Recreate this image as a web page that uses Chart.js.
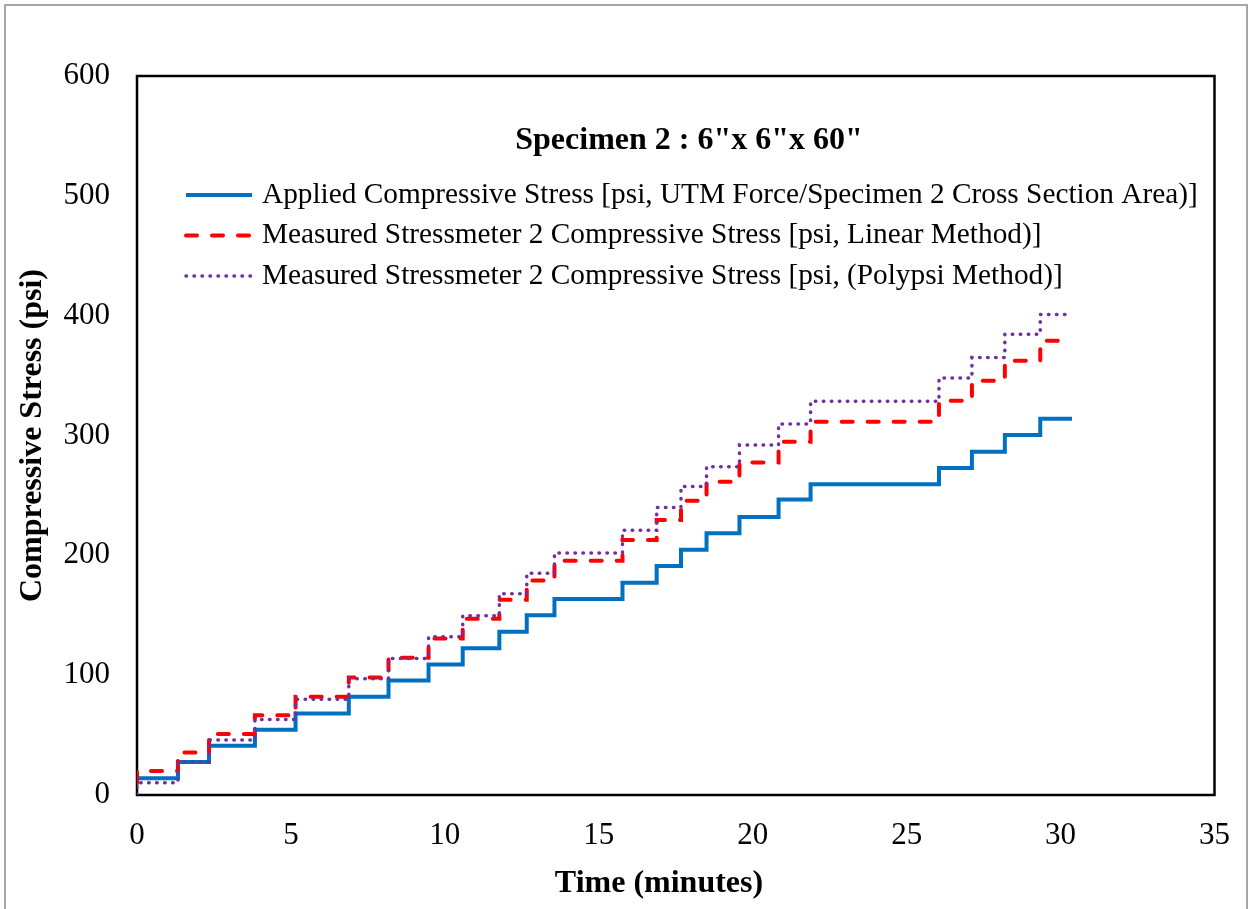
<!DOCTYPE html>
<html>
<head>
<meta charset="utf-8">
<title>Specimen 2 compressive stress</title>
<script src="https://cdn.jsdelivr.net/npm/chart.js@4.4.1/dist/chart.umd.min.js"></script>
<style>
  html, body { margin: 0; padding: 0; background: #fff; }
  #wrap { position: relative; width: 1252px; height: 909px; }
</style>
</head>
<body>
<div id="wrap"><canvas id="stressChart" width="1252" height="909"></canvas></div>
<script>
  // load steps (minutes) - same for all three records
  const stepTimes = [0, 1.33, 2.34, 3.83, 5.15, 6.88, 8.17, 9.47, 10.58, 11.77, 12.66, 13.56,
    15.77, 16.88, 17.67, 18.5, 19.57, 20.84, 21.88, 26.05, 27.12, 28.19, 29.34];

  // level held from each step time (psi)
  const appliedLevels = [14, 27.5, 41, 54.5, 68, 82, 95.5, 109, 122.5, 136.3, 150, 163.5,
    177.2, 191, 204.7, 218.4, 232, 246.5, 259.3, 272.8, 286.5, 300.4, 314];
  const linearLevels = [20, 35.5, 51, 66.5, 82, 98, 114.5, 130.6, 147, 163, 179, 195.5,
    212.8, 229.5, 245.6, 261.5, 277.5, 294.7, 311.5, 329, 345.6, 362.3, 379];
  const polypsiLevels = [10.3, 27.3, 46, 63, 80, 97, 114, 132, 149.5, 168, 185, 202,
    221, 240, 257.5, 274, 292, 309.6, 328.5, 348, 365, 384.5, 401];

  // reading at t = 0 before the first level, and last time of each record
  const linearStart = 10;
  const polypsiStart = 0;
  const appliedEnd = 30.37;
  const linearEnd = 30.02;
  const polypsiEnd = 30.37;

  const xTicks = [0, 5, 10, 15, 20, 25, 30, 35];
  const yTicks = [0, 100, 200, 300, 400, 500, 600];

  const chartTitle = "Specimen 2 : 6\"x 6\"x 60\"";
  const xTitle = "Time (minutes)";
  const yTitle = "Compressive Stress (psi)";
  const seriesNames = [
    "Applied Compressive Stress [psi, UTM Force/Specimen 2 Cross Section Area)]",
    "Measured Stressmeter 2 Compressive Stress [psi, Linear Method)]",
    "Measured Stressmeter 2 Compressive Stress [psi, (Polypsi Method)]",
  ];

  const SERIF = '"Liberation Serif", "Times New Roman", serif';

  function stepPoints(times, levels, endTime, startValue) {
    const pts = [];
    if (startValue !== undefined) pts.push({ x: times[0], y: startValue });
    times.forEach((t, i) => pts.push({ x: t, y: levels[i] }));
    pts.push({ x: endTime, y: levels[levels.length - 1] });
    return pts;
  }

  // outer border, plot frame, inner title, legend and x title
  const framePlugin = {
    id: "frame",
    beforeDraw(chart) {
      const ctx = chart.ctx;
      ctx.save();
      ctx.fillStyle = "#fff";
      ctx.fillRect(0, 0, chart.width, chart.height);
      ctx.strokeStyle = "#a6a6a6";
      ctx.lineWidth = 2;
      ctx.strokeRect(5, 5, chart.width - 10, chart.height + 20);
      ctx.restore();
    },
    beforeDatasetsDraw(chart) {
      const a = chart.chartArea;
      const ctx = chart.ctx;
      ctx.save();
      ctx.strokeStyle = "#000";
      ctx.lineWidth = 2.5;
      ctx.strokeRect(a.left, a.top, a.right - a.left, a.bottom - a.top);
      ctx.restore();
    },
    afterDraw(chart) {
      const a = chart.chartArea;
      const ctx = chart.ctx;
      ctx.save();
      ctx.fillStyle = "#000";
      ctx.textBaseline = "middle";
      ctx.textAlign = "center";
      ctx.font = "bold 32px " + SERIF;
      ctx.fillText(chartTitle, a.left + 552, a.top + 65);
      // x title sits a little left of the plot centre
      ctx.fillText(xTitle, a.left + 522, a.bottom + 89);

      ctx.textAlign = "left";
      ctx.font = "29.3px " + SERIF;
      chart.data.datasets.forEach((ds, i) => {
        const y = a.top + 119 + i * 40.5;
        ctx.save();
        ctx.strokeStyle = ds.borderColor;
        ctx.lineWidth = ds.borderWidth;
        ctx.lineCap = ds.borderCapStyle || "butt";
        ctx.setLineDash(ds.borderDash || []);
        ctx.beginPath();
        ctx.moveTo(a.left + 49, y);
        ctx.lineTo(a.left + 115, y);
        ctx.stroke();
        ctx.restore();
        ctx.fillText(ds.label, a.left + 125, y);
      });
      ctx.restore();
    },
  };

  new Chart(document.getElementById("stressChart"), {
    type: "line",
    data: {
      datasets: [
        {
          label: seriesNames[0],
          data: stepPoints(stepTimes, appliedLevels, appliedEnd),
          borderColor: "#0070C0",
          borderWidth: 4,
          stepped: true,
          order: 3,
        },
        {
          label: seriesNames[1],
          data: stepPoints(stepTimes, linearLevels, linearEnd, linearStart),
          borderColor: "#FF0000",
          borderWidth: 4,
          borderDash: [11, 15],
          borderCapStyle: "round",
          stepped: true,
          order: 2,
        },
        {
          label: seriesNames[2],
          data: stepPoints(stepTimes, polypsiLevels, polypsiEnd, polypsiStart),
          borderColor: "#7030A0",
          borderWidth: 3.5,
          borderDash: [0.5, 7.5],
          borderCapStyle: "round",
          stepped: true,
          order: 1,
        },
      ],
    },
    options: {
      responsive: false,
      animation: false,
      devicePixelRatio: 1,
      layout: { padding: { top: 76, right: 36, left: 0, bottom: 0 } },
      elements: { point: { radius: 0 }, line: { fill: false } },
      plugins: { legend: { display: false }, tooltip: { enabled: false } },
      scales: {
        x: {
          type: "linear",
          min: xTicks[0],
          max: xTicks[xTicks.length - 1],
          afterBuildTicks: (s) => { s.ticks = xTicks.map((v) => ({ value: v })); },
          afterFit: (s) => { s.height = 114; },
          grid: { display: false, drawTicks: false },
          border: { display: false },
          ticks: { color: "#000", font: { family: SERIF, size: 31 }, padding: 22, maxRotation: 0 },
        },
        y: {
          min: yTicks[0],
          max: yTicks[yTicks.length - 1],
          afterBuildTicks: (s) => { s.ticks = yTicks.map((v) => ({ value: v })); },
          afterFit: (s) => { s.width = 137; },
          grid: { display: false, drawTicks: false },
          border: { display: false },
          ticks: { color: "#000", font: { family: SERIF, size: 31 }, padding: 27 },
          title: {
            display: true,
            text: yTitle,
            color: "#000",
            font: { family: SERIF, size: 32, weight: "bold" },
            padding: { top: 14, bottom: 0 },
          },
        },
      },
    },
    plugins: [framePlugin],
  });
</script>
</body>
</html>
